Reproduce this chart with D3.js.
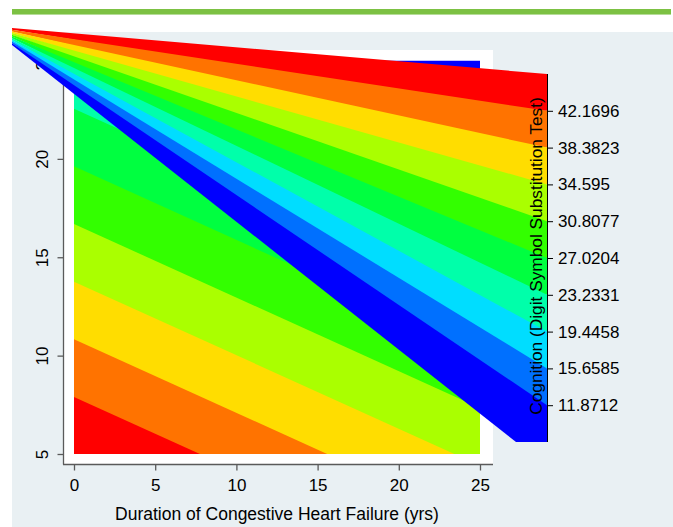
<!DOCTYPE html>
<html>
<head>
<meta charset="utf-8">
<script src="https://cdn.jsdelivr.net/npm/d3@7"></script>
<style>
  body { margin: 0; background: #ffffff; }
  text { font-family: "Liberation Sans", Arial, sans-serif; fill: #000; }
</style>
</head>
<body>
<div id="chart"></div>
<script>
// contour cut levels (legend ticks), high to low
let levels = [42.1696, 38.3823, 34.595, 30.8077, 27.0204, 23.2331, 19.4458, 15.6585, 11.8712];
let levelLabels = ["42.1696", "38.3823", "34.595", "30.8077", "27.0204", "23.2331", "19.4458", "15.6585", "11.8712"];
// colour of each band, from highest (above 42.1696) to lowest (below 11.8712)
let bandColors = ["#ff0000", "#ff7300", "#ffdd00", "#aaff00", "#33ff00", "#00ff40", "#00ffaa", "#00ddff", "#0070ff", "#0000ff"];
// where each contour line sits (y value) at duration 0 and at duration 25
let lineAt0 = [7.90, 10.83, 13.76, 16.69, 19.62, 22.55, 25.48, 28.41, 31.34];
let lineAt25 = [-1.45, 1.48, 4.41, 7.34, 10.27, 13.20, 16.13, 19.06, 21.99];
let xTicks = [0, 5, 10, 15, 20, 25];
let yTicks = [5, 10, 15, 20, 25];
// legend extent (one step beyond the outer cuts)
let legendRange = [8.0839, 45.9569];

let width = 673, height = 527;

let svg = d3.select("#chart").append("svg")
    .attr("width", width)
    .attr("height", height);

// page decoration
svg.append("rect").attr("x", 12).attr("y", 9).attr("width", 659).attr("height", 5).attr("fill", "#7cc143");
svg.append("rect").attr("x", 12).attr("y", 14).attr("width", 659).attr("height", 1).attr("fill", "#b5dc98");
svg.append("rect").attr("x", 12).attr("y", 32).attr("width", 661).attr("height", 495).attr("fill", "#e9f0f3");

// plot region
svg.append("rect").attr("x", 63).attr("y", 50).attr("width", 430).attr("height", 414).attr("fill", "#ffffff");

let x = d3.scaleLinear().domain([0, 25]).range([74, 480]);
let y = d3.scaleLinear().domain([5, 25]).range([454, 60.5]);

svg.append("clipPath").attr("id", "plotclip")
    .append("rect")
    .attr("x", x(0)).attr("y", y(25))
    .attr("width", x(25) - x(0)).attr("height", y(5) - y(25));

let surface = svg.append("g").attr("clip-path", "url(#plotclip)");

// lowest band fills everything, then each cut paints the area below its line
surface.append("rect")
    .attr("x", x(0)).attr("y", y(25))
    .attr("width", x(25) - x(0)).attr("height", y(5) - y(25))
    .attr("fill", bandColors[bandColors.length - 1]);

let cutOrder = d3.range(levels.length).reverse();
surface.selectAll("polygon").data(cutOrder).enter().append("polygon")
    .attr("points", function(i){
        let pts = [[0, lineAt0[i]], [25, lineAt25[i]], [25, -30], [0, -30]];
        return pts.map(p => x(p[0]) + "," + y(p[1])).join(" ");
    })
    .attr("fill", i => bandColors[i]);

// axes
svg.append("line").attr("x1", 63.5).attr("x2", 63.5).attr("y1", 50).attr("y2", 464.5)
    .attr("stroke", "#5a5a5a").attr("stroke-width", 1.3);
svg.append("line").attr("x1", 63).attr("x2", 493).attr("y1", 464.5).attr("y2", 464.5)
    .attr("stroke", "#5a5a5a").attr("stroke-width", 1.3);

let yAxis = svg.append("g")
    .attr("transform", "translate(63.5,0)")
    .call(d3.axisLeft(y).tickValues(yTicks).tickSize(6).tickFormat(d3.format("d")));
yAxis.select(".domain").remove();
yAxis.selectAll("line").attr("stroke", "#5a5a5a").attr("stroke-width", 1.3);
yAxis.selectAll("text")
    .attr("x", 0).attr("y", -16).attr("dy", 0)
    .attr("transform", "rotate(-90)")
    .attr("text-anchor", "middle")
    .style("font-size", "17px")
    .style("font-family", "Liberation Sans, Arial, sans-serif");

let xAxis = svg.append("g")
    .attr("transform", "translate(0,464.5)")
    .call(d3.axisBottom(x).tickValues(xTicks).tickSize(6).tickFormat(d3.format("d")));
xAxis.select(".domain").remove();
xAxis.selectAll("line").attr("stroke", "#5a5a5a").attr("stroke-width", 1.3);
xAxis.selectAll("text")
    .attr("y", 26).attr("dy", 0)
    .style("font-size", "17px")
    .style("font-family", "Liberation Sans, Arial, sans-serif");

svg.append("text")
    .attr("x", (x(0) + x(25)) / 2)
    .attr("y", 520)
    .attr("text-anchor", "middle")
    .style("font-size", "17.5px")
    .text("Duration of Congestive Heart Failure (yrs)");

// legend bar, drawn stretched across the graph
let cb = d3.scaleLinear().domain(legendRange).range([442, 74]);
let fan = d3.scaleLinear().domain(legendRange).range([45, 28]);
let cbRight = 547, cbLeft = 516, fanX = 12;

let bounds = [legendRange[1]].concat(levels).concat([legendRange[0]]);
let bands = bandColors.map((c, i) => ({hi: bounds[i], lo: bounds[i + 1], color: c}));

svg.append("g").selectAll("polygon").data(bands).enter().append("polygon")
    .attr("points", function(d){
        let pts = [[fanX, fan(d.hi)], [cbRight, cb(d.hi)], [cbRight, cb(d.lo)], [cbLeft, cb(d.lo)], [fanX, fan(d.lo)]];
        return pts.map(p => p.join(",")).join(" ");
    })
    .attr("fill", d => d.color);

let cbAxis = svg.append("g")
    .attr("transform", "translate(" + cbRight + ",0)")
    .call(d3.axisRight(cb).tickValues(levels).tickSize(6).tickFormat((d, i) => levelLabels[i]));
cbAxis.select(".domain").remove();
cbAxis.selectAll("line").attr("stroke", "#000").attr("stroke-width", 1);
cbAxis.selectAll("text")
    .attr("x", 11)
    .style("font-size", "17px")
    .style("font-family", "Liberation Sans, Arial, sans-serif");

svg.append("line").attr("x1", cbRight + 0.5).attr("x2", cbRight + 0.5)
    .attr("y1", cb(legendRange[1])).attr("y2", cb(legendRange[0]))
    .attr("stroke", "#000").attr("stroke-width", 1);

svg.append("text")
    .attr("transform", "translate(542," + 256 + ") rotate(-90)")
    .attr("text-anchor", "middle")
    .style("font-size", "17.3px")
    .text("Cognition (Digit Symbol Substitution Test)");
</script>
</body>
</html>
